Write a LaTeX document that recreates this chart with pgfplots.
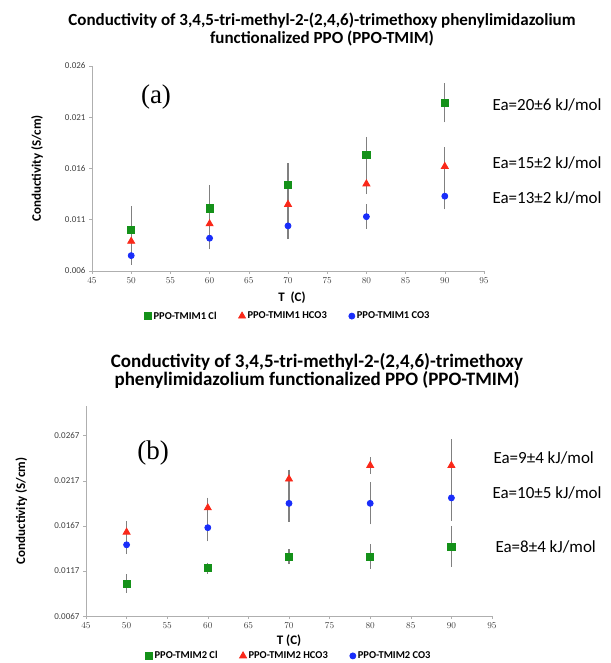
\documentclass[border=0pt]{standalone}
\usepackage{pgfplots}
\pgfplotsset{compat=1.18}
\usepackage{fontspec}
\setmainfont{Carlito}
\newfontfamily\serifa{Liberation Serif}
\definecolor{mgreen}{RGB}{20,145,25}
\definecolor{mred}{RGB}{250,40,25}
\definecolor{mblue}{RGB}{25,45,250}
\definecolor{axgray}{RGB}{175,175,175}
\definecolor{errgray}{RGB}{128,128,128}

\pgfplotsset{
  cond/.style={
    scale only axis,
    axis lines=left,
    axis line style={axgray, line width=0.9pt, -},
    tick style={axgray, line width=0.6pt},
    tick align=outside,
    major tick length=3pt,
    xmin=45, xmax=95,
    xtick={45,50,...,95},
    scaled y ticks=false,
    tick label style={font=\fontsize{9}{10}\selectfont, text=black!75},
    ylabel style={font=\bfseries\fontsize{13}{15}\selectfont},
    xlabel style={font=\bfseries\fontsize{13}{15}\selectfont},
    legend style={draw=none, fill=none, font=\bfseries\fontsize{10.5}{12}\selectfont,
      legend columns=3, /tikz/every even column/.append style={column sep=20pt}},
    legend cell align=left,
  },
  eb/.style={only marks, line width=0.8pt,
    /pgfplots/error bars/y dir=both, /pgfplots/error bars/y explicit,
    /pgfplots/error bars/error bar style={errgray, line width=1.2pt},
    /pgfplots/error bars/error mark options={errgray, mark size=3pt, line width=1.2pt}},
  sq/.style={eb, mark=square*, mark size=3.6pt, mark options={draw=mgreen, fill=mgreen}},
  tri/.style={eb, mark=triangle*, mark size=4pt, mark options={draw=mred, fill=mred}},
  cir/.style={eb, mark=*, mark size=3pt, mark options={draw=mblue, fill=mblue}},
}

\begin{document}
\begin{tikzpicture}[x=1pt, y=1pt]
\useasboundingbox (0,0) rectangle (610,663);
\clip (0,0) rectangle (610,663);

% ---- panel (a) ----
\node[font=\bfseries\fontsize{17}{18}\selectfont, align=center] at (322,634)
  {Conductivity of 3,4,5-tri-methyl-2-(2,4,6)-trimethoxy phenylimidazolium\\functionalized PPO (PPO-TMIM)};

\begin{axis}[cond,
  at={(92pt,392pt)}, anchor=south west,
  width=392pt, height=205pt,
  ymin=0.006, ymax=0.026,
  ytick={0.006,0.011,0.016,0.021,0.026},
  yticklabels={0.006,0.011,0.016,0.021,0.026},
  xlabel={T\hspace{0.45em}(C)\hspace{0.3em}},
  xlabel style={at={(axis description cs:0.51,-0.13)}, anchor=center},
  ylabel={Conductivity (S/cm)},
  ylabel style={at={(axis description cs:-0.14,0.5)}, anchor=center},
  legend style={at={(0.5,-0.22)}, anchor=center},
]
\addplot[sq] table[x=T, y=s, y error=e] {
T s e
50 0.0100 0.0020
60 0.0121 0.0020
70 0.0144 0.0018
80 0.0173 0.0015
90 0.0224 0.0016
};
\addlegendentry{PPO-TMIM1 Cl}
\addplot[tri] table[x=T, y=s, y error=e] {
T s e
50 0.0089 0.0007
60 0.0106 0.0008
70 0.0125 0.0007
80 0.0145 0.0007
90 0.0162 0.0016
};
\addlegendentry{PPO-TMIM1 HCO3}
\addplot[cir] table[x=T, y=s, y error=e] {
T s e
50 0.0075 0.0006
60 0.0092 0.0008
70 0.0104 0.0010
80 0.0113 0.0009
90 0.0133 0.0010
};
\addlegendentry{PPO-TMIM1 CO3}
\end{axis}

\node[font=\serifa\fontsize{27}{30}\selectfont] at (156,566) {(a)};
\node[font=\fontsize{17}{19}\selectfont, anchor=west] at (489,558) {Ea=20±6 kJ/mol};
\node[font=\fontsize{17}{19}\selectfont, anchor=west] at (489,500) {Ea=15±2 kJ/mol};
\node[font=\fontsize{17}{19}\selectfont, anchor=west] at (489,465) {Ea=13±2 kJ/mol};

% ---- panel (b) ----
\node[font=\bfseries\fontsize{19}{18}\selectfont, align=center] at (317,292)
  {Conductivity of 3,4,5-tri-methyl-2-(2,4,6)-trimethoxy\\phenylimidazolium functionalized PPO (PPO-TMIM)};

\begin{axis}[cond,
  at={(86pt,47pt)}, anchor=south west,
  width=406pt, height=210pt,
  ymin=0.0067, ymax=0.0300,
  ytick={0.0067,0.0117,0.0167,0.0217,0.0267},
  yticklabels={0.0067,0.0117,0.0167,0.0217,0.0267},
  xlabel={T (C)},
  xlabel style={at={(axis description cs:0.5,-0.118)}, anchor=center},
  ylabel={Conductivity (S/cm)},
  ylabel style={at={(axis description cs:-0.159,0.5)}, anchor=center},
  legend style={at={(0.5,-0.19)}, anchor=center},
]
\addplot[sq] table[x=T, y=s, y error=e] {
T s e
50 0.0103 0.0007
60 0.0120 0.0003
70 0.0133 0.0005
80 0.0133 0.0010
90 0.0144 0.0019
};
\addlegendentry{PPO-TMIM2 Cl}
\addplot[tri] table[x=T, y=s, y error=e] {
T s e
50 0.0160 0.0009
60 0.0187 0.0008
70 0.0219 0.0007
80 0.0234 0.0006
90 0.0234 0.0026
};
\addlegendentry{PPO-TMIM2 HCO3}
\addplot[cir] table[x=T, y=s, y error=e] {
T s e
50 0.0146 0.0007
60 0.0165 0.0012
70 0.0192 0.0017
80 0.0192 0.0020
90 0.0198 0.0022
};
\addlegendentry{PPO-TMIM2 CO3}
\end{axis}

\node[font=\serifa\fontsize{27}{30}\selectfont] at (153,210) {(b)};
\node[font=\fontsize{17}{19}\selectfont, anchor=west] at (490,205) {Ea=9±4 kJ/mol};
\node[font=\fontsize{17}{19}\selectfont, anchor=west] at (489,170) {Ea=10±5 kJ/mol};
\node[font=\fontsize{17}{19}\selectfont, anchor=west] at (492,116) {Ea=8±4 kJ/mol};
\end{tikzpicture}
\end{document}
